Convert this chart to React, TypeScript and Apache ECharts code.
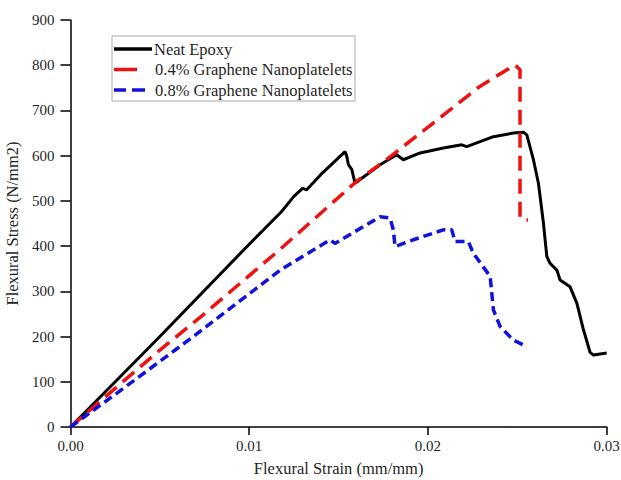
import React, { useEffect, useRef } from "react";
import * as echarts from "echarts";

const seriesNames = ["Neat Epoxy", "0.4% Graphene Nanoplatelets", "0.8% Graphene Nanoplatelets"];

const neatEpoxy: [number, number][] = [
  [0, 0], [0.0022, 88], [0.005, 200], [0.0097, 392], [0.0118, 476], [0.0125, 510],
  [0.013, 528], [0.0132, 524], [0.014, 558], [0.01536, 609], [0.01546, 598],
  [0.01555, 580], [0.01574, 569], [0.01592, 539], [0.01732, 580], [0.01825, 602],
  [0.01862, 591], [0.01956, 606], [0.02086, 617], [0.02189, 624], [0.02217, 620],
  [0.02366, 642], [0.02478, 650], [0.02534, 652], [0.02553, 646], [0.0259, 591],
  [0.02618, 539], [0.02646, 451], [0.02665, 377], [0.02683, 362], [0.02721, 347],
  [0.02739, 325], [0.02795, 310], [0.02833, 274], [0.0287, 215], [0.02907, 165],
  [0.02926, 159], [0.0299, 163], [0.03, 164],
];

const gnp04: [number, number][] = [
  [0, 0], [0.0026, 89], [0.005, 170], [0.0073, 244], [0.0117, 392], [0.016, 543],
  [0.0179, 598], [0.0229, 753], [0.02487, 801], [0.02515, 790], [0.02515, 465],
  [0.0253, 458], [0.0256, 458],
];

const gnp08: [number, number][] = [
  [0, 0], [0.0026, 75], [0.00687, 200], [0.01174, 347], [0.01452, 414], [0.0148, 406],
  [0.01732, 465], [0.01788, 462], [0.01806, 436], [0.01816, 399], [0.01918, 414],
  [0.02086, 436], [0.02133, 436], [0.02152, 410], [0.02226, 410], [0.02254, 384],
  [0.02348, 333], [0.02366, 259], [0.02404, 222], [0.02478, 192], [0.02553, 178],
];

const xTicks = [0, 0.01, 0.02, 0.03];
const yTicks = [0, 100, 200, 300, 400, 500, 600, 700, 800, 900];

const FONT = "Liberation Serif";
const TEXT = "#1f1f1f";

export default function App() {
  const ref = useRef<HTMLDivElement>(null);
  useEffect(() => {
    if (!ref.current) return;
    const chart = echarts.init(ref.current, undefined, { renderer: "svg" });
    const labelStyle = { color: TEXT, fontFamily: FONT, fontSize: 15 };
    const nameStyle = { color: TEXT, fontFamily: FONT, fontSize: 16.5 };
    const axisLine = { show: true, lineStyle: { color: "#000", width: 1.5 } };
    const tickStyle = { color: "#000", width: 1.5 };
    const legendText = (text: string, x: number, y: number) => ({
      type: "text", x, y, z: 101,
      style: { text, fill: TEXT, fontFamily: FONT, fontSize: 16.5, verticalAlign: "middle", align: "left" },
    });
    chart.setOption({
      animation: false,
      backgroundColor: "#fff",
      textStyle: { fontFamily: FONT },
      grid: { left: 70.5, right: 14.3, top: 20, bottom: 53, containLabel: false, outerBoundsMode: "none" },
      xAxis: {
        type: "value",
        min: xTicks[0],
        max: xTicks[xTicks.length - 1],
        interval: 0.01,
        name: "Flexural Strain (mm/mm)",
        nameLocation: "middle",
        nameGap: 33,
        nameTextStyle: nameStyle,
        axisLine,
        axisTick: { show: true, inside: false, length: 8, lineStyle: tickStyle },
        splitLine: { show: false },
        axisLabel: { ...labelStyle, margin: 11, formatter: (v: number) => v.toFixed(2) },
      },
      yAxis: {
        type: "value",
        min: yTicks[0],
        max: yTicks[yTicks.length - 1],
        interval: 100,
        name: "Flexural Stress (N/mm2)",
        nameLocation: "middle",
        nameGap: 36,
        nameTextStyle: nameStyle,
        axisLine,
        axisTick: { show: true, inside: false, length: 10, lineStyle: tickStyle },
        splitLine: { show: false },
        axisLabel: { ...labelStyle, margin: 16 },
      },
      series: [
        {
          name: seriesNames[0], type: "line", data: neatEpoxy, symbol: "none",
          lineStyle: { color: "#000", width: 3 }, z: 2,
        },
        {
          name: seriesNames[1], type: "line", data: gnp04, symbol: "none",
          lineStyle: { color: "#ee1111", width: 3.5, type: [15, 8] }, z: 3,
        },
        {
          name: seriesNames[2], type: "line", data: gnp08, symbol: "none",
          lineStyle: { color: "#1111dd", width: 3.5, type: [9, 5] }, z: 4,
        },
      ],
      graphic: [
        { type: "rect", z: 100, shape: { x: 112, y: 36, width: 243, height: 65 },
          style: { fill: "#fff", stroke: "#a8a8a8", lineWidth: 1 } },
        { type: "line", z: 101, shape: { x1: 114, y1: 49, x2: 152, y2: 49 },
          style: { stroke: "#000", lineWidth: 3.5 } },
        { type: "line", z: 101, shape: { x1: 114, y1: 69.5, x2: 137, y2: 69.5 },
          style: { stroke: "#ee1111", lineWidth: 3.5 } },
        { type: "line", z: 101, shape: { x1: 114, y1: 90, x2: 126, y2: 90 },
          style: { stroke: "#1111dd", lineWidth: 3.5 } },
        { type: "line", z: 101, shape: { x1: 132, y1: 90, x2: 145, y2: 90 },
          style: { stroke: "#1111dd", lineWidth: 3.5 } },
        legendText(seriesNames[0], 154, 49),
        legendText(seriesNames[1], 155, 69.5),
        legendText(seriesNames[2], 155, 90),
      ],
    });
    return () => chart.dispose();
  }, []);
  return <div ref={ref} style={{ position: "fixed", left: 0, top: 0, width: 621, height: 480 }} />;
}
